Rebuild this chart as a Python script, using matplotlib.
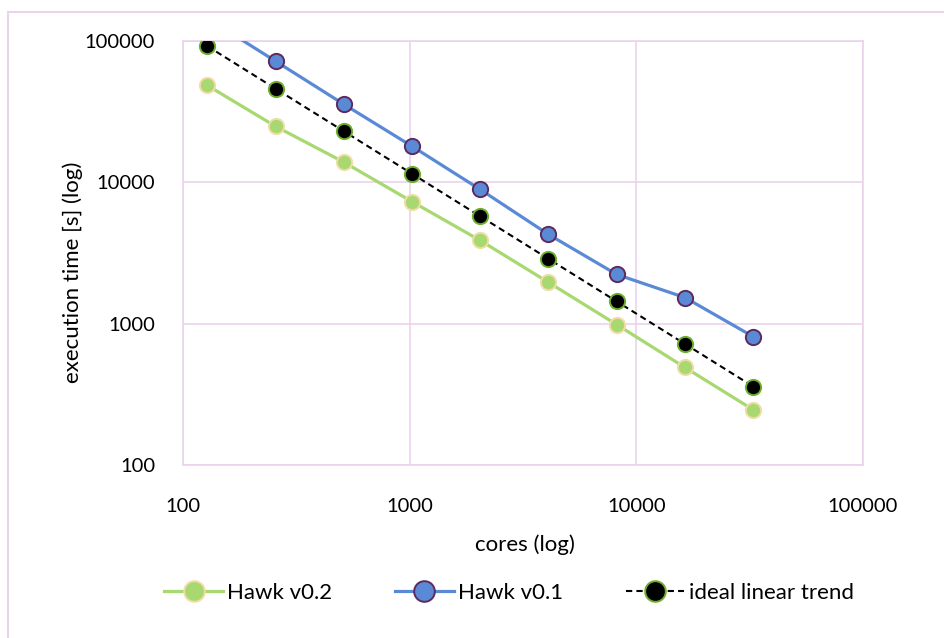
import matplotlib
matplotlib.use('Agg')
import matplotlib.pyplot as plt
from matplotlib.patches import Rectangle

plt.rcParams['font.family'] = ['Lato', 'DejaVu Sans']

# cores and execution times (s)
cores = [128, 256, 512, 1024, 2048, 4096, 8192, 16384, 32768]
hawk_v02 = [48500, 24900, 13900, 7300, 3880, 1960, 985, 490, 246]
hawk_v01 = [145000, 72000, 35700, 18000, 8900, 4280, 2230, 1530, 810]
ideal = [92000, 46000, 23000, 11500, 5750, 2875, 1437, 719, 359]

GRID = '#EBD3EB'

fig = plt.figure(figsize=(9.44, 6.38), dpi=100)
# outer chart frame
fig.patches.append(Rectangle((8 / 944, -0.1), 1.2, 1 - 12 / 638 + 0.1,
                             transform=fig.transFigure, fill=False,
                             edgecolor=GRID, linewidth=1.5))

ax = fig.add_axes([183 / 944, 1 - 465 / 638, 680 / 944, 424 / 638])
ax.set_xscale('log')
ax.set_yscale('log')
ax.set_xlim(100, 100000)
ax.set_ylim(100, 100000)

ax.plot(cores, hawk_v02, color='#A8D870', lw=2.3, marker='o', ms=11,
        mfc='#A8D870', mec='#F2DCA8', mew=1.4, label='Hawk v0.2', zorder=3)
ax.plot(cores, hawk_v01, color='#5A8AD6', lw=2.3, marker='o', ms=11,
        mfc='#5A8AD6', mec='#5E2A5E', mew=1.4, label='Hawk v0.1', zorder=3)
ax.plot(cores, ideal, color='black', lw=1.5, dashes=(3, 2), marker='o', ms=11,
        mfc='black', mec='#6CB02E', mew=1.4, label='ideal linear trend', zorder=4)

ax.set_xticks([100, 1000, 10000, 100000])
ax.set_xticklabels(['100', '1000', '10000', '100000'])
ax.set_yticks([100, 1000, 10000, 100000])
ax.set_yticklabels(['100', '1000', '10000', '100000'])
ax.minorticks_off()
ax.tick_params(length=0, labelsize=14.5, colors='black')
ax.tick_params(axis='x', pad=24)
ax.tick_params(axis='y', pad=20)
ax.grid(True, color=GRID, lw=1.2)
ax.set_axisbelow(True)
for s in ax.spines.values():
    s.set_color(GRID)
    s.set_linewidth(1.2)

fig.text(525 / 944, 1 - 545 / 638, 'cores (log)', fontsize=16,
         ha='center', va='center')
fig.text(73 / 944, 1 - 272 / 638, 'execution time [s] (log)', fontsize=16,
         ha='center', va='center', rotation=90)

fig.legend(loc='center', bbox_to_anchor=(509 / 944, 1 - 593 / 638), ncol=3,
           frameon=False, fontsize=16, handlelength=2.65, handletextpad=0.2,
           columnspacing=2.8, markerscale=1.35)

fig.savefig('out.png', dpi=100)
